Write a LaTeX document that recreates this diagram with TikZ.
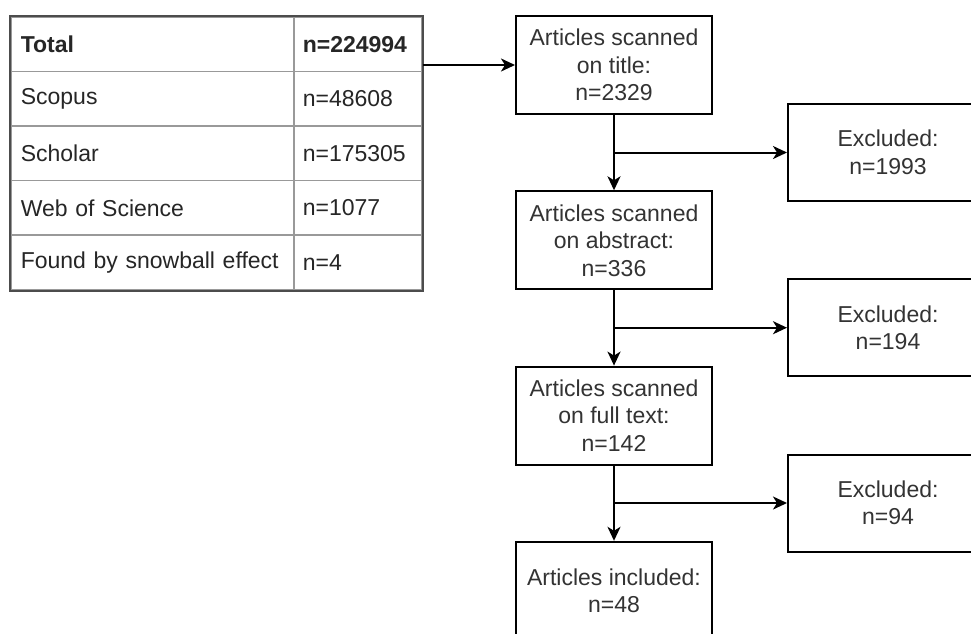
\documentclass[tikz,border=0pt]{standalone}
\usepackage{fontspec}
\setmainfont{Liberation Sans}
\usetikzlibrary{arrows.meta,positioning}

\tikzset{
  every node/.style={font=\fontsize{23}{27.5}\selectfont},
  cell/.style={draw=gray!80!white, line width=1.6pt, anchor=north west,
    minimum height=54.6pt, inner ysep=0pt, align=left, text=black!85},
  wide/.style={cell, text width=263pt, inner xsep=10pt},
  narrow/.style={cell, text width=110pt, inner xsep=9pt},
  tframe/.style={draw=black!70, line width=1.8pt},
  stage/.style={draw=black, line width=2pt, minimum width=196pt,
    minimum height=98pt, align=center, text=black!80, inner sep=2pt},
  dropbox/.style={draw=black, line width=2pt, minimum width=200pt,
    minimum height=97pt, align=center, text=black!80},
  flow/.style={draw=black, line width=2pt,
    -{Stealth[length=14pt, width=13pt, inset=4pt]}},
  link/.style={draw=black, line width=2pt}
}

\begin{document}
\begin{tikzpicture}[x=1pt, y=-1pt]
  \useasboundingbox (0,0) rectangle (971,633);
  \clip (0,0) rectangle (971,633);
  \fill[white] (0,0) rectangle (971,633);

  % source table
  \node[wide]   (r1a) at (10,16)      {\textbf{Total}};
  \node[narrow] (r1b) at (293,16)     {\textbf{n=224994}};
  \node[wide]   (r2a) at (10,70.6)    {Scopus};
  \node[narrow] (r2b) at (293,70.6)   {n=48608};
  \node[wide]   (r3a) at (10,125.2)   {Scholar};
  \node[narrow] (r3b) at (293,125.2)  {n=175305};
  \node[wide]   (r4a) at (10,179.8)   {Web of Science};
  \node[narrow] (r4b) at (293,179.8)  {n=1077};
  \node[wide]   (r5a) at (10,234.4)   {Found by snowball effect};
  \node[narrow] (r5b) at (293,234.4)  {n=4};
  \draw[tframe] (r1a.north west) rectangle (r5b.south east);
  \coordinate (tblE) at (r1b.north east);

  % screening stages
  \node[stage] (b1) at (614,65)    {Articles scanned\\on title:\\n=2329};
  \node[stage] (b2) at (614,240.3) {Articles scanned\\on abstract:\\n=336};
  \node[stage] (b3) at (614,415.6) {Articles scanned\\on full text:\\n=142};
  \node[stage] (b4) at (614,590.8) {Articles included:\\n=48};

  % exclusions
  \node[dropbox] (x1) at (888,152.5) {Excluded:\\n=1993};
  \node[dropbox] (x2) at (888,327.7) {Excluded:\\n=194};
  \node[dropbox] (x3) at (888,503)   {Excluded:\\n=94};

  % connectors
  \draw[flow] (b1.west -| tblE) -- (b1.west);
  \draw[flow] (b1) -- (b2);
  \draw[flow] (b2) -- (b3);
  \draw[flow] (b3) -- (b4);
  \coordinate (j1) at (b1 |- x1);
  \coordinate (j2) at (b2 |- x2);
  \coordinate (j3) at (b3 |- x3);
  \draw[flow] (j1) -- (x1.west);
  \draw[flow] (j2) -- (x2.west);
  \draw[flow] (j3) -- (x3.west);
\end{tikzpicture}
\end{document}
